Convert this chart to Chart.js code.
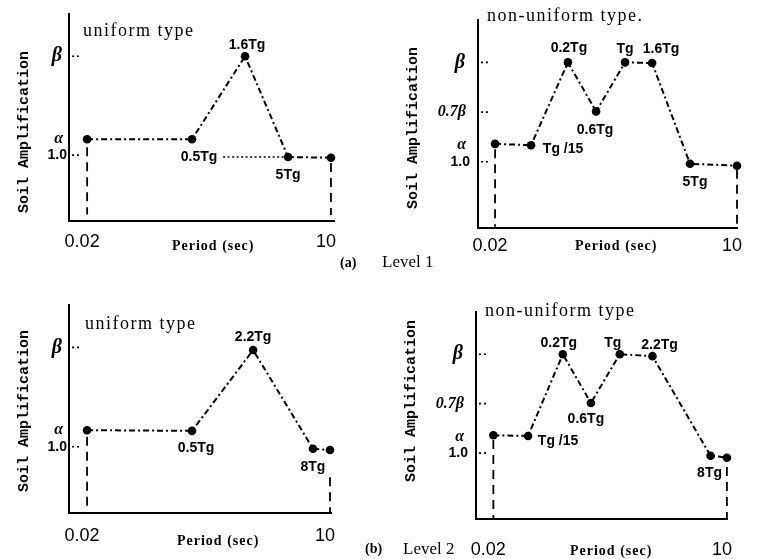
<!DOCTYPE html>
<html><head><meta charset="utf-8">
<script src="https://cdn.jsdelivr.net/npm/chart.js@4.4.1/dist/chart.umd.min.js"></script>
<style>
html,body{margin:0;padding:0;background:#fff;}
body{width:757px;height:559px;position:relative;overflow:hidden;}
canvas{position:absolute;}
.t{position:absolute;white-space:nowrap;color:#000;line-height:1;}
.ttl{font-family:"Liberation Serif","DejaVu Serif",serif;font-size:18px;letter-spacing:1.5px;}
.per{font-family:"Liberation Serif","DejaVu Serif",serif;font-weight:bold;font-size:14px;letter-spacing:1px;}
.lvl{font-family:"Liberation Serif","DejaVu Serif",serif;font-size:17px;}
.fig{font-family:"Liberation Serif","DejaVu Serif",serif;font-weight:bold;font-size:14px;}
.soil{font-family:"Liberation Mono","DejaVu Sans Mono",monospace;font-weight:bold;font-size:15px;transform:translate(-50%,-50%) rotate(-90deg);}
</style></head><body>

<canvas id="c1" width="378" height="280" style="left:0;top:0"></canvas>
<canvas id="c2" width="379" height="280" style="left:378px;top:0"></canvas>
<canvas id="c3" width="378" height="279" style="left:0;top:280px"></canvas>
<canvas id="c4" width="379" height="279" style="left:378px;top:280px"></canvas>

<div class="t ttl" style="left:83px;top:21px">uniform type</div>
<div class="t ttl" style="left:487px;top:6px">non-uniform type.</div>
<div class="t ttl" style="left:85px;top:314px">uniform type</div>
<div class="t ttl" style="left:485px;top:301px">non-uniform type</div>

<div class="t soil" style="left:24px;top:132px">Soil Amplification</div>
<div class="t soil" style="left:413px;top:128px">Soil Amplification</div>
<div class="t soil" style="left:24px;top:411px">Soil Amplification</div>
<div class="t soil" style="left:411px;top:401px">Soil Amplification</div>

<div class="t per" style="left:172px;top:239px">Period (sec)</div>
<div class="t per" style="left:575px;top:239px">Period (sec)</div>
<div class="t per" style="left:177px;top:534px">Period (sec)</div>
<div class="t per" style="left:570px;top:544px">Period (sec)</div>

<div class="t fig" style="left:340px;top:256px">(a)</div>
<div class="t lvl" style="left:382px;top:253px">Level 1</div>
<div class="t fig" style="left:365px;top:542px">(b)</div>
<div class="t lvl" style="left:403px;top:540px">Level 2</div>

<script>
// ---------- tick values / labels ----------
const xTickValues = [0.02, 10];
const xTickLabels = ['0.02', '10'];
const yTickValuesUniform = [1.0, 1.25, 2.5];
const yTickLabelsUniform = ['1.0', 'α', 'β'];
const yTickValuesNonUniform = [1.0, 1.25, 1.75, 2.5];
const yTickLabelsNonUniform = ['1.0', 'α', '0.7β', 'β'];

// ---------- Level 1, uniform type ----------
const l1uPeriod = [0.02, 0.29, 1.12, 3.35, 10];
const l1uAmp = [1.24, 1.24, 2.5, 0.97, 0.96];
const l1uNames = ['', '0.5Tg', '1.6Tg', '5Tg', ''];
const l1uRefPeriod = [0.64, 3.35];
const l1uRefAmp = [0.97, 0.97];
const l1uDropTop = [1.12, 0.88];
const l1uDropBottom = [0.1, 0.09];

// ---------- Level 1, non-uniform type ----------
const l1nPeriod = [0.02, 0.0504, 0.130, 0.268, 0.564, 1.13, 2.99, 10];
const l1nAmp = [1.27, 1.25, 2.5, 1.76, 2.5, 2.49, 0.97, 0.94];
const l1nNames = ['', 'Tg /15', '0.2Tg', '0.6Tg', 'Tg', '1.6Tg', '5Tg', ''];
const l1nDropTop = [1.19, 0.88];
const l1nDropBottom = [0.02, 0.02];

// ---------- Level 2, uniform type ----------
const l2uPeriod = [0.02, 0.293, 1.40, 6.47, 10];
const l2uAmp = [1.25, 1.24, 2.46, 0.97, 0.95];
const l2uNames = ['', '0.5Tg', '2.2Tg', '8Tg', ''];
const l2uDropTop = [1.15, 0.54];
const l2uDropBottom = [0.05, 0.0];

// ---------- Level 2, non-uniform type ----------
const l2nPeriod = [0.02, 0.0504, 0.127, 0.268, 0.578, 1.38, 6.47, 10];
const l2nAmp = [1.27, 1.26, 2.5, 1.76, 2.5, 2.47, 0.96, 0.93];
const l2nNames = ['', 'Tg /15', '0.2Tg', '0.6Tg', 'Tg', '2.2Tg', '8Tg', ''];
const l2nDropTop = [1.2, 0.79];
const l2nDropBottom = [0.0, 0.0];

// ---------- layout / style (not data) ----------
const panels = [
  {id:'c1', w:378, h:280, area:{l:69, t:10, r:334, b:221}, xMin:0.0126, xMax:10.8, xPad:10, yPad:2,
   period:l1uPeriod, amp:l1uAmp, names:l1uNames, dropTop:l1uDropTop, dropBottom:l1uDropBottom,
   ref:{p:l1uRefPeriod, a:l1uRefAmp}, yVals:yTickValuesUniform, yLabels:yTickLabelsUniform,
   offs:[[0,0],[7,18],[2,-11],[0,18],[0,0]], spaced:true},
  {id:'c2', w:379, h:280, area:{l:100, t:15, r:359, b:228}, xMin:0.0129, xMax:10, xPad:7, yPad:8,
   period:l1nPeriod, amp:l1nAmp, names:l1nNames, dropTop:l1nDropTop, dropBottom:l1nDropBottom,
   ref:null, yVals:yTickValuesNonUniform, yLabels:yTickLabelsNonUniform,
   offs:[[0,0],[32,4],[1,-14],[-1,19],[0,-13],[9,-14],[5,18],[0,0]], spaced:true},
  {id:'c3', w:378, h:279, area:{l:69, t:25, r:331, b:233}, xMin:0.0126, xMax:10.26, xPad:12, yPad:2,
   period:l2uPeriod, amp:l2uAmp, names:l2uNames, dropTop:l2uDropTop, dropBottom:l2uDropBottom,
   ref:null, yVals:yTickValuesUniform, yLabels:yTickLabelsUniform,
   offs:[[0,0],[4,17],[0,-13],[0,18],[0,0]], spaced:true},
  {id:'c4', w:379, h:279, area:{l:98, t:32, r:359, b:239}, xMin:0.0126, xMax:10.26, xPad:20, yPad:8,
   period:l2nPeriod, amp:l2nAmp, names:l2nNames, dropTop:l2nDropTop, dropBottom:l2nDropBottom,
   ref:null, yVals:yTickValuesNonUniform, yLabels:yTickLabelsNonUniform,
   offs:[[0,0],[30,5],[-4,-11],[-5,16],[-7,-11],[7,-11],[-1,17],[0,0]], spaced:true}
];

const pointLabelPlugin = {
  id: 'pointLabels',
  afterDatasetsDraw(chart, args, opts) {
    const meta = chart.getDatasetMeta(0);
    const ctx = chart.ctx;
    ctx.save();
    ctx.font = 'bold 14px "Liberation Sans", Arial, sans-serif';
    ctx.fillStyle = '#000';
    ctx.textAlign = 'center';
    ctx.textBaseline = 'middle';
    (opts.names || []).forEach((t, i) => {
      if (!t) return;
      const p = meta.data[i];
      const o = opts.offs[i];
      ctx.fillText(t, p.x + o[0], p.y + o[1]);
    });
    ctx.restore();
  }
};

const innerTickPlugin = {
  id: 'innerTicks',
  afterDraw(chart, args, opts) {
    const ys = chart.scales.y;
    const ctx = chart.ctx;
    const x0 = chart.chartArea.left;
    ctx.save();
    ctx.strokeStyle = '#000';
    ctx.lineWidth = 1.6;
    ctx.setLineDash([2, 3]);
    ys.ticks.forEach(t => {
      if (opts.skip.includes(t.value)) return;
      const py = ys.getPixelForValue(t.value);
      ctx.beginPath();
      ctx.moveTo(x0 + 3, py);
      ctx.lineTo(x0 + 12, py);
      ctx.stroke();
    });
    ctx.restore();
  }
};

function yFont(label) {
  if (label.startsWith('β')) return {family:'"Liberation Serif", serif', size:20, style:'italic', weight:'bold'};
  if (label.startsWith('0.7')) return {family:'"Liberation Serif", serif', size:16, style:'italic', weight:'bold'};
  if (label.startsWith('α')) return {family:'"Liberation Serif", serif', size:16, style:'italic', weight:'bold'};
  return {family:'"Liberation Sans", Arial, sans-serif', size:14, weight:'bold'};
}

panels.forEach(P => {
  const mainData = P.period.map((p, i) => ({x: p, y: P.amp[i]}));
  const datasets = [
    {data: mainData, borderColor:'#000', borderWidth:2, borderDash:[6,3,2,3],
     pointRadius:4.3, pointBackgroundColor:'#000', pointBorderWidth:0, clip:false, tension:0},
    {data:[{x:xTickValues[0], y:P.dropTop[0]}, {x:xTickValues[0], y:P.dropBottom[0]}],
     borderColor:'#000', borderWidth:1.8, borderDash:[9,6], pointRadius:0, clip:false},
    {data:[{x:xTickValues[1], y:P.dropTop[1]}, {x:xTickValues[1], y:P.dropBottom[1]}],
     borderColor:'#000', borderWidth:1.8, borderDash:[9,6], pointRadius:0, clip:false}
  ];
  if (P.ref) {
    datasets.push({data: P.ref.p.map((p, i) => ({x:p, y:P.ref.a[i]})),
      borderColor:'#000', borderWidth:1.5, borderDash:[2,2.5], pointRadius:0, clip:false});
  }
  new Chart(document.getElementById(P.id), {
    type: 'line',
    data: {datasets},
    plugins: [pointLabelPlugin, innerTickPlugin],
    options: {
      responsive: false,
      animation: false,
      devicePixelRatio: 1,
      layout: {padding: {left:0, top:P.area.t, right:P.w - P.area.r, bottom:0}},
      plugins: {
        legend: {display:false}, tooltip: {enabled:false},
        pointLabels: {names:P.names, offs:P.offs},
        innerTicks: {skip:[1.25]}
      },
      scales: {
        x: {
          type: 'logarithmic', min: P.xMin, max: P.xMax,
          grid: {display:false, drawTicks:false},
          border: {display:true, color:'#000', width:2},
          afterBuildTicks: s => { s.ticks = xTickValues.map(v => ({value:v})); },
          afterFit: s => { s.height = P.h - P.area.b; },
          ticks: {
            autoSkip:false, maxRotation:0, padding:P.xPad, labelOffset:-5, color:'#000',
            font: {family:'"Liberation Sans", Arial, sans-serif', size:18},
            callback: (v, i) => xTickLabels[i]
          }
        },
        y: {
          type: 'linear', min: 0, max: 3.14,
          grid: {display:false, drawTicks:false},
          border: {display:true, color:'#000', width:2},
          afterBuildTicks: s => { s.ticks = P.yVals.map(v => ({value:v})); },
          afterFit: s => { s.width = P.area.l; },
          ticks: {
            autoSkip:false, padding:P.yPad, color:'#000',
            font: ctx => {
              const t = ctx && ctx.tick;
              if (!t) return {family:'"Liberation Sans", Arial, sans-serif', size:14, weight:'bold'};
              return yFont(P.yLabels[P.yVals.indexOf(t.value)] || '');
            },
            callback: (v, i) => {
              const lab = P.yLabels[i];
              return (P.spaced && lab !== '1.0') ? lab + ' ' : lab;
            }
          }
        }
      }
    }
  });
});
</script>
</body></html>
